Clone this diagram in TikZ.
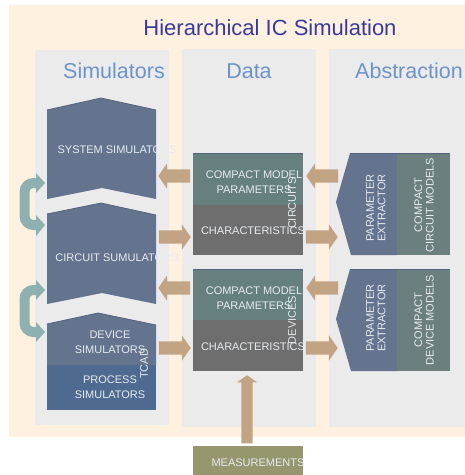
\documentclass[tikz,border=0pt]{standalone}
\usepackage{fontspec}
\setmainfont{Liberation Sans}
\usetikzlibrary{shapes.arrows,arrows.meta}
\definecolor{bgpeach}{HTML}{FFF1E0}
\definecolor{panel}{HTML}{EBEBEB}
\definecolor{slate}{HTML}{64748F}
\definecolor{slatedk}{HTML}{55647C}
\definecolor{procblue}{HTML}{4F6A90}
\definecolor{tealbox}{HTML}{667F7F}
\definecolor{tealboxb}{HTML}{6A7F7E}
\definecolor{greybox}{HTML}{6E6E6E}
\definecolor{olivebox}{HTML}{96966F}
\definecolor{tan}{HTML}{C2A383}
\definecolor{tealarrow}{HTML}{8FB0B0}
\definecolor{titleblue}{HTML}{3A3A9C}
\definecolor{headblue}{HTML}{6C94C8}
\definecolor{boxtext}{HTML}{E6EBEE}
\tikzset{
  x=1pt,y=-1pt,
  panelbox/.style={fill=panel,draw=none},
  label/.style={text=boxtext,font=\fontsize{11}{12.5}\selectfont,align=center,inner sep=0pt},
  vlabel/.style={label,rotate=90},
  head/.style={text=headblue,font=\fontsize{21.5}{24}\selectfont,inner sep=0pt},
  blockarrow/.style={single arrow,fill=tan,draw=none,anchor=tip,minimum width=24pt,minimum height=32pt,
    single arrow head extend=6pt,single arrow tip angle=110,single arrow head indent=0pt,inner xsep=0pt,inner ysep=6.5pt},
  toplight/.style={draw=slatedk,line width=0.8pt},
  bendshaft/.style={draw=tealarrow,line width=10pt,rounded corners=9pt},
  bendhead/.style={fill=tealarrow,draw=none}
}
\begin{document}
\begin{tikzpicture}
\useasboundingbox (0,0) rectangle (465,475);
\fill[white] (0,0) rectangle (465,475);
\fill[bgpeach] (9,5) rectangle (465,437);
\fill[panelbox] (35,50) rectangle (169,425);
\fill[panelbox] (182,49) rectangle (316,427);
\fill[panelbox] (329,49) rectangle (465,427);

\node[text=titleblue,font=\fontsize{22}{26}\selectfont,inner sep=0pt] (title) at (270,28) {Hierarchical IC Simulation};
\node[head] (hsim) at (114,71) {Simulators};
\node[head] (hdata) at (249,71) {Data};
\node[head] (habs) at (409,71) {Abstraction};

% simulators
\fill[slate] (47,110) -- (101,98) -- (156,110) -- (156,199) -- (102,188) -- (47,199) -- cycle;
\draw[toplight] (47,110) -- (101,98) -- (156,110);
\fill[slate] (47,214) -- (101,203) -- (156,215) -- (156,304) -- (102,293) -- (47,304) -- cycle;
\draw[toplight] (47,214) -- (101,203) -- (156,215);
\fill[procblue] (47,365) rectangle (156,410);
\fill[slate] (47,324) -- (98,313) -- (156,325) -- (156,365) -- (47,365) -- cycle;
\draw[toplight] (47,324) -- (98,313) -- (156,325);
\node[label] (sys) at (117,150) {SYSTEM SIMULATORS};
\node[label] (cir) at (117,258) {CIRCUIT SUMULATORS};
\node[label] (dev) at (110,342) {DEVICE\\[2pt]SIMULATORS};
\node[label] (proc) at (110,387) {PROCESS\\[2pt]SIMULATORS};
\node[vlabel] (tcad) at (144,364) {TCAD};

% data boxes
\fill[tealbox] (193,153) rectangle (303,205);
\fill[greybox] (193,205) rectangle (303,255);
\fill[tealbox] (193,269) rectangle (303,320);
\fill[greybox] (193,320) rectangle (303,371);
\draw[draw=slatedk,line width=0.8pt] (193,153) -- (303,153) (193,269) -- (303,269);
\node[label] (cmp1) at (254,182) {COMPACT MODEL\\[2pt]PARAMETERS};
\node[label] (chr1) at (253,231) {CHARACTERISTICS};
\node[label] (cmp2) at (254,298) {COMPACT MODEL\\[2pt]PARAMETERS};
\node[label] (chr2) at (253,347) {CHARACTERISTICS};
\node[vlabel] (circuits) at (292,203) {CIRCUITS};
\node[vlabel] (devices) at (292,320) {DEVICES};

% measurements
\fill[olivebox] (193,446) rectangle (303,475);
\node[label] (meas) at (258,463) {MEASUREMENTS};

% abstraction
\fill[slate] (336,202) -- (350,153) -- (397,153) -- (397,255) -- (351,255) -- cycle;
\fill[tealboxb] (397,153) rectangle (450,255);
\fill[slate] (336,319) -- (350,269) -- (397,269) -- (397,371) -- (351,371) -- cycle;
\fill[tealboxb] (397,269) rectangle (450,371);
\draw[draw=slatedk,line width=0.8pt] (350,153) -- (450,153) (350,269) -- (450,269);
\node[vlabel] (pe1) at (376,208) {PARAMETER\\[-1pt]EXTRACTOR};
\node[vlabel] (ccm) at (424,205) {COMPACT\\[-1pt]CIRCUIT MODELS};
\node[vlabel] (pe2) at (376,318) {PARAMETER\\[-1pt]EXTRACTOR};
\node[vlabel] (cdm) at (424,320) {COMPACT\\[-1pt]DEVICE MODELS};

% block arrows
\node[blockarrow,shape border rotate=180] (a1) at (158,176) {};
\node[blockarrow] (a2) at (191,237) {};
\node[blockarrow,shape border rotate=180] (a3) at (306,176) {};
\node[blockarrow] (a4) at (338,237) {};
\node[blockarrow,shape border rotate=180] (a5) at (158,288) {};
\node[blockarrow] (a6) at (191,348) {};
\node[blockarrow,shape border rotate=180] (a7) at (306,288) {};
\node[blockarrow] (a8) at (338,348) {};
\node[blockarrow,shape border rotate=90,minimum height=68pt,minimum width=20pt,single arrow head extend=4.5pt,inner xsep=5.5pt,inner ysep=5.5pt] (a9) at (247,375) {};

% bent arrows
\coordinate (b1s) at (38,183);
\coordinate (b1m) at (24.5,183);
\coordinate (b1n) at (24.5,225);
\coordinate (b1e) at (38,225);
\draw[bendshaft] (b1s) -- (b1m) -- (b1n) -- (b1e);
\fill[bendhead] (36,173) -- (45,183) -- (36,193) -- cycle;
\fill[bendhead] (36,215) -- (45,225) -- (36,236) -- cycle;
\coordinate (b2s) at (38,290);
\coordinate (b2m) at (24.5,290);
\coordinate (b2n) at (24.5,332);
\coordinate (b2e) at (38,332);
\draw[bendshaft] (b2s) -- (b2m) -- (b2n) -- (b2e);
\fill[bendhead] (36,280) -- (45,290) -- (36,300) -- cycle;
\fill[bendhead] (36,322) -- (45,332) -- (36,342) -- cycle;
\end{tikzpicture}
\end{document}
